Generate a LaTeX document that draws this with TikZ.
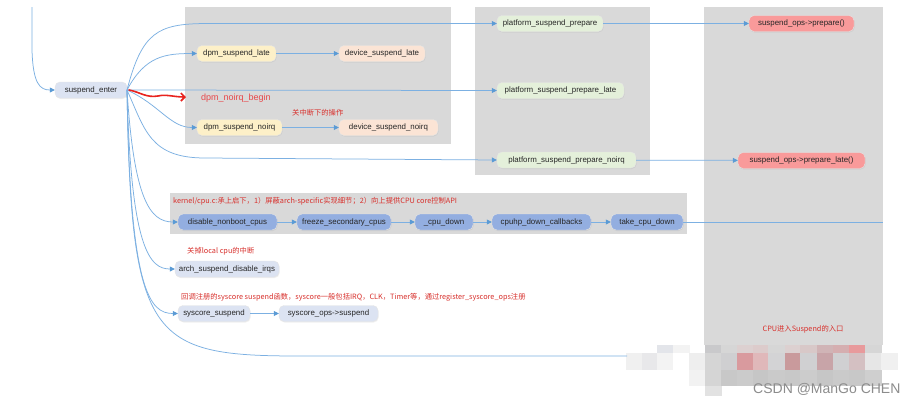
\documentclass[tikz,border=0pt]{standalone}
\usepackage{fontspec}
\setmainfont{Liberation Sans}
\newfontfamily\cjk{Noto Sans CJK SC}
\usetikzlibrary{arrows.meta,shadows}
\definecolor{cbg}{HTML}{D9D9D9}
\definecolor{cline}{HTML}{7CB0E2}
\definecolor{ctip}{HTML}{5B9BD5}
\definecolor{cred}{HTML}{D8302C}
\definecolor{cred2}{HTML}{E8474A}
\definecolor{cred3}{HTML}{E8231E}
\definecolor{cwm}{HTML}{8C8C8C}
\definecolor{ctext}{HTML}{262626}
\definecolor{cblue}{HTML}{DCE3F2}
\definecolor{cyel}{HTML}{FDF0C8}
\definecolor{cpeach}{HTML}{FBE4D5}
\definecolor{cgreen}{HTML}{E4F0DA}
\definecolor{csalmon}{HTML}{F99A9A}
\definecolor{ccpu}{HTML}{93AEE0}
\tikzset{
  fn/.style={rounded corners=5pt, minimum height=16pt, inner sep=1pt,
    font=\fontsize{7.9}{9}\selectfont, text=ctext, draw=black!10,
    drop shadow={opacity=0.12, shadow xshift=0.6pt, shadow yshift=-1pt}},
  nblue/.style={fn, fill=cblue, minimum width=#1},
  nyel/.style={fn, fill=cyel, minimum width=#1},
  npeach/.style={fn, fill=cpeach, minimum width=#1},
  ngreen/.style={fn, fill=cgreen, minimum width=#1},
  nsalmon/.style={fn, fill=csalmon, minimum width=#1},
  ncpu/.style={fn, fill=ccpu, minimum width=#1},
  grp/.style={fill=cbg, draw=none},
  conn/.style={draw=cline, line width=0.75pt, -{Triangle[length=5pt,width=5pt,color=ctip]}},
  plain/.style={draw=cline, line width=0.75pt},
  note/.style={font=\cjk\fontsize{7.3}{8}\selectfont, text=cred, inner sep=0pt, anchor=west},
}
\newcommand{\mcell}[4]{\definecolor{mtmp}{HTML}{#4}\fill[mtmp] (#1,#2) rectangle ++(16.5,#3);}
\begin{document}
\begin{tikzpicture}[x=1pt,y=-1pt]
\useasboundingbox[fill=white] (0,0) rectangle (923,405);
% group boxes
\fill[grp] (185,7) rectangle (451,144);
\fill[grp] (475,7) rectangle (650,175);
\fill[grp] (704,7) rectangle (883,345);
\fill[grp] (170,193) rectangle (687,234);
% mosaic
\foreach \x/\c in {657/E3E5EA,673/F3F3F3,705/C9C9CB,721/D6D6D6,737/DCD0D0,753/DCCBCB,768/D6D6D6,785/DCD0D0,800/D8C8C8,817/D0B4B6,833/D5AEB0,849/E89A9C,865/D6D6D6}
  {\mcell{\x}{345}{8}{\c}}
\foreach \x/\c in {626/F0F0F0,642/E8E8EA,657/F3F3F3,673/FFFFFF,689/EEEEEE,705/D5D5D5,721/CFCFD1,737/D99A9E,753/E0B8BA,768/D3D3D5,785/C99A9C,800/D0D0D2,817/C8A4A8,833/D0D0D2,849/D4C0C2,865/E6E6E6,881/F0F0F0}
  {\mcell{\x}{353}{17}{\c}}
\foreach \x/\c in {689/F2F2F2,705/D5D5D5,721/C8C8C8,737/CBCBCB,753/C6C6C6,768/CACACA,785/C8C8C8,800/CCCCCC,817/C6C6C6,833/CACACA,849/C8C8C8,865/CFCFCF}
  {\mcell{\x}{370}{16}{\c}}
\mcell{705}{386}{10}{E2E2E2}
% nodes
\node[nblue=72pt] (se) at (91,90) {suspend\_enter};
\node[nyel=79pt] (dsl) at (236.5,53.5) {dpm\_suspend\_late};
\node[npeach=86pt] (devsl) at (382,53.5) {device\_suspend\_late};
\node[nyel=85pt] (dsn) at (239.5,127.5) {dpm\_suspend\_noirq};
\node[npeach=99pt] (devsn) at (388.5,127.5) {device\_suspend\_noirq};
\node[ngreen=106pt] (psp) at (550,23.5) {platform\_suspend\_prepare};
\node[ngreen=127pt] (pspl) at (560.5,90.5) {platform\_suspend\_prepare\_late};
\node[ngreen=139pt] (pspn) at (566.5,160) {platform\_suspend\_prepare\_noirq};
\node[nsalmon=105pt] (opp) at (801.5,23.5) {suspend\_ops->prepare()};
\node[nsalmon=127pt] (opl) at (801.5,160.5) {suspend\_ops->prepare\_late()};
\node[ncpu=99pt] (dnc) at (227.5,222) {disable\_nonboot\_cpus};
\node[ncpu=94pt] (fsc) at (344,222) {freeze\_secondary\_cpus};
\node[ncpu=58pt] (cd) at (444,222) {\_cpu\_down};
\node[ncpu=99pt] (cdc) at (541.5,222) {cpuhp\_down\_callbacks};
\node[ncpu=72pt] (tcd) at (647,222) {take\_cpu\_down};
\node[nblue=104pt] (asdi) at (227,269) {arch\_suspend\_disable\_irqs};
\node[nblue=72pt] (ss) at (214,313.5) {syscore\_suspend};
\node[nblue=99pt] (sos) at (328.5,313.5) {syscore\_ops->suspend};
% texts
\node[font=\fontsize{9}{10}\selectfont, text=cred2, anchor=west, inner sep=0pt] (nb) at (201,98) {dpm\_noirq\_begin};
\node[note] (t1) at (292,113) {关中断下的操作};
\node[note] (t2) at (173,201) {kernel/cpu.c:承上启下，1）屏蔽arch-specific实现细节；2）向上提供CPU core控制API};
\node[note] (t3) at (187,251) {关掉local cpu的中断};
\node[note] (t4) at (181,297) {回调注册的syscore suspend函数，syscore一般包括IRQ，CLK，Timer等，通过register\_syscore\_ops注册};
\node[note, anchor=center] (t5) at (803,329) {CPU进入Suspend的入口};
\node[font=\fontsize{14}{16}\selectfont, text=cwm, anchor=west, inner sep=0pt] (wm) at (753,389) {CSDN @ManGo CHEN};
% coordinates
\coordinate (top) at (32,7);
\coordinate (o) at (127,90);
\coordinate (endR) at (883,222);
\coordinate (endB) at (627,356);
% connectors
\draw[conn] (top) -- (32,50) .. controls (33,84) and (40,90) .. (se.west);
\draw[conn] (o) .. controls (142,32) and (158,24) .. (205,23.5) -- (psp.west);
\draw[conn] (o) .. controls (145,56) and (165,53.5) .. (dsl.west);
\draw[conn] (o) -- (pspl.west);
\draw[conn] (o) .. controls (160,105) and (170,127.5) .. (dsn.west);
\draw[conn] (o) .. controls (145,130) and (150,158) .. (205,158) -- (pspn.west);
\draw[conn] (o) .. controls (134,200) and (150,222) .. (dnc.west);
\draw[conn] (o) .. controls (131,250) and (150,269) .. (asdi.west);
\draw[conn] (o) .. controls (130,292) and (150,313.5) .. (ss.west);
\draw[plain] (o) .. controls (131,340) and (150,356) .. (300,356) -- (endB);
\draw[conn] (dsl) -- (devsl);
\draw[conn] (dsn) -- (devsn);
\draw[conn] (psp) -- (opp);
\draw[conn] (pspn) -- (opl);
\draw[conn] (dnc) -- (fsc);
\draw[conn] (fsc) -- (cd);
\draw[conn] (cd) -- (cdc);
\draw[conn] (cdc) -- (tcd);
\draw[plain] (tcd) -- (endR);
\draw[conn] (ss) -- (sos);
% red annotation arrow
\draw[draw=cred3, line width=1.6pt, line cap=round, -{Straight Barb[length=4pt,width=8pt]}]
  (129,90) .. controls (140,92) and (146,98) .. (158,96) .. controls (166,94) and (174,97) .. (186,97);
\end{tikzpicture}
\end{document}
